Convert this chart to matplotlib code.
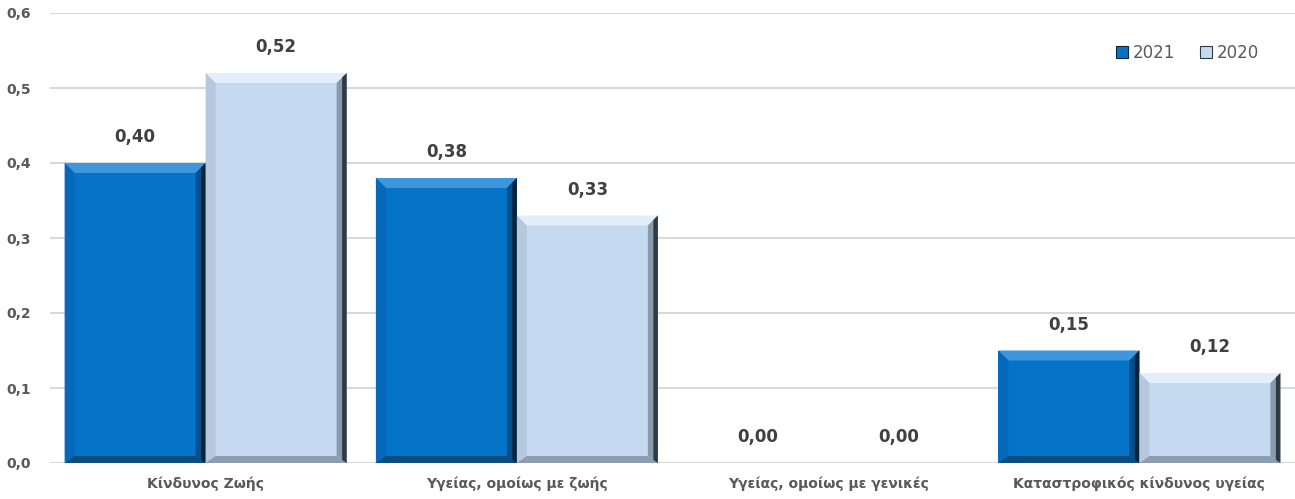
import numpy as np
import matplotlib.pyplot as plt
from matplotlib.patches import Polygon, Patch

categories = ["Κίνδυνος Ζωής", "Υγείας, ομοίως με ζωής",
              "Υγείας, ομοίως με γενικές", "Καταστροφικός κίνδυνος υγείας"]
series_names = ["2021", "2020"]
values_2021 = [0.40, 0.38, 0.00, 0.15]
values_2020 = [0.52, 0.33, 0.00, 0.12]
yticks = [0.0, 0.1, 0.2, 0.3, 0.4, 0.5, 0.6]

# face, top, left, right (inner, outer), bottom
styles = {
    "2021": dict(face="#0574C8", top="#3E97DD", left="#0568B8",
                 right=("#05508C", "#0B2338"), bottom="#0A4D7E"),
    "2020": dict(face="#C5D9F1", top="#E2EEFA", left="#B5C8DE",
                 right=("#8A9AAD", "#2F3A47"), bottom="#8D9DB0"),
}


def fmt(v, d=2):
    return f"{v:.{d}f}".replace(".", ",")


def bevel(ax, x0, w, h, st, px_x, px_y):
    if h <= 0:
        return
    bx = 10 * px_x
    by = min(10 * px_y, h / 2)
    bb = min(7 * px_y, h / 2)
    x1 = x0 + w
    polys = [
        ([(x0, h), (x1, h), (x1 - bx, h - by), (x0 + bx, h - by)], st["top"]),
        ([(x0, 0), (x0 + bx, bb), (x0 + bx, h - by), (x0, h)], st["left"]),
        ([(x0, 0), (x1, 0), (x1 - bx, bb), (x0 + bx, bb)], st["bottom"]),
        ([(x1, 0), (x1, h), (x1 - bx, h - by), (x1 - bx, bb)], st["right"][0]),
        ([(x1, 0), (x1, h), (x1 - bx * 0.45, h - by * 0.45),
          (x1 - bx * 0.45, bb * 0.45)], st["right"][1]),
    ]
    for pts, c in polys:
        ax.add_patch(Polygon(pts, closed=True, facecolor=c, edgecolor="none", zorder=3))


fig = plt.figure(figsize=(12.95, 4.99), dpi=100)
ax = fig.add_axes([50 / 1295, 1 - 463 / 499, 1245 / 1295, 450 / 499])
plt.rcParams['font.family'] = ['DejaVu Sans']

x = np.arange(len(categories))
w = 0.453
ax.set_xlim(-0.5, len(categories) - 0.5)
ax.set_ylim(0, 0.6)

px_x = (len(categories)) / 1245
px_y = 0.6 / 450

for i, (name, vals) in enumerate(zip(series_names, [values_2021, values_2020])):
    st = styles[name]
    pos = x - w / 2 + i * w
    bars = ax.bar(pos, vals, width=w, color=st["face"], zorder=2)
    for b, v in zip(bars, vals):
        bevel(ax, b.get_x(), b.get_width(), v, st, px_x, px_y)
        ax.annotate(fmt(v), (b.get_x() + b.get_width() / 2, v), xytext=(0, 12),
                    textcoords="offset points", ha="center", va="bottom",
                    fontsize=12, fontweight="bold", color="#404040")

ax.set_yticks(yticks)
ax.set_yticklabels([fmt(t, 1) for t in yticks], fontsize=10, fontweight="bold",
                   color="#595959")
ax.set_xticks(x)
ax.set_xticklabels(categories, fontsize=10, fontweight="bold", color="#595959")
ax.tick_params(axis="y", length=0, pad=14)
ax.tick_params(axis="x", length=0, pad=10)
ax.yaxis.grid(True, color="#D9D9D9", linewidth=1.5, zorder=0)
ax.set_axisbelow(True)
for s in ax.spines.values():
    s.set_visible(False)

handles = [Patch(facecolor=styles[n]["face"], edgecolor=styles[n]["right"][1], linewidth=0.8)
           for n in series_names]
leg = ax.legend(handles, series_names, loc="upper right", ncol=2, frameon=False,
                fontsize=12, handlelength=0.7, handleheight=0.7, handletextpad=0.3,
                columnspacing=1.5, bbox_to_anchor=(0.983, 0.965))
for t in leg.get_texts():
    t.set_color("#595959")

fig.savefig("out.png", dpi=100)
